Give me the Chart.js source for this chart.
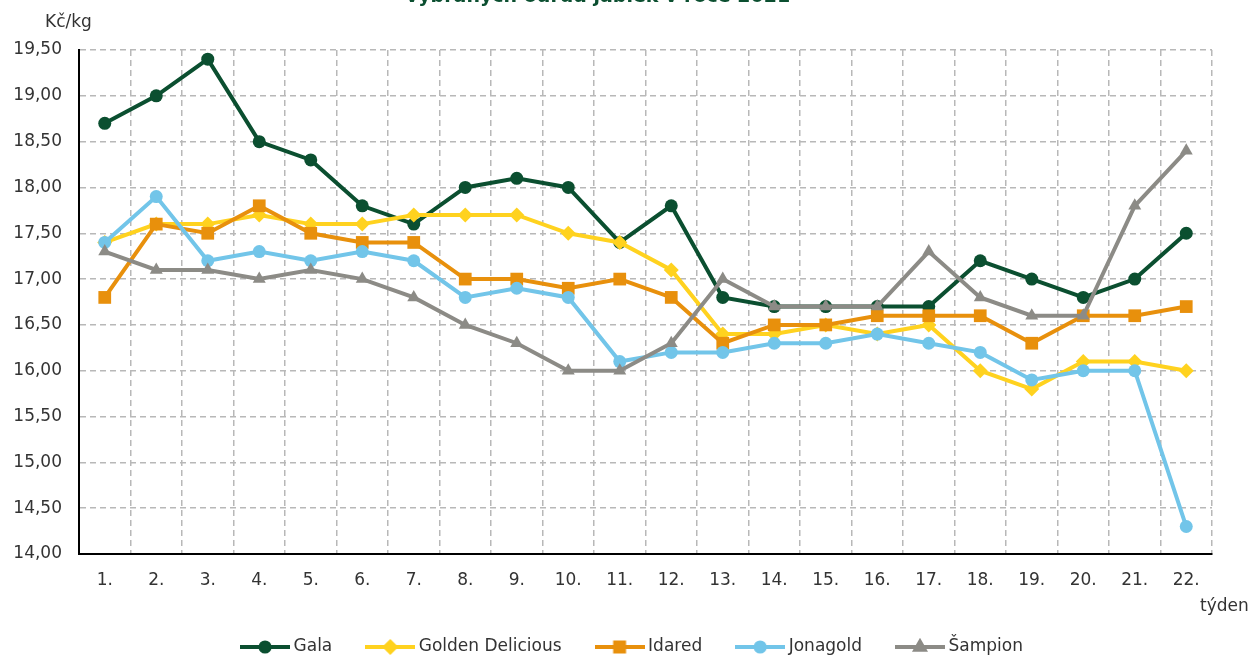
<!DOCTYPE html>
<html>
<head>
<meta charset="utf-8">
<script src="https://cdn.jsdelivr.net/npm/chart.js@4/dist/chart.umd.min.js"></script>
<style>
  body { margin: 0; overflow: hidden; background: #fff; }
  .wrap { position: relative; width: 1253px; height: 680px; }
</style>
</head>
<body>
<div class="wrap"><canvas class="line-chart"></canvas></div>
<script>
// weeks 1.-22.
const weeks = ["1.", "2.", "3.", "4.", "5.", "6.", "7.", "8.", "9.", "10.", "11.",
  "12.", "13.", "14.", "15.", "16.", "17.", "18.", "19.", "20.", "21.", "22."];

const gala = [18.7, 19.0, 19.4, 18.5, 18.3, 17.8, 17.6, 18.0, 18.1, 18.0, 17.4,
  17.8, 16.8, 16.7, 16.7, 16.7, 16.7, 17.2, 17.0, 16.8, 17.0, 17.5];
const golden = [17.4, 17.6, 17.6, 17.7, 17.6, 17.6, 17.7, 17.7, 17.7, 17.5, 17.4,
  17.1, 16.4, 16.4, 16.5, 16.4, 16.5, 16.0, 15.8, 16.1, 16.1, 16.0];
const idared = [16.8, 17.6, 17.5, 17.8, 17.5, 17.4, 17.4, 17.0, 17.0, 16.9, 17.0,
  16.8, 16.3, 16.5, 16.5, 16.6, 16.6, 16.6, 16.3, 16.6, 16.6, 16.7];
const jonagold = [17.4, 17.9, 17.2, 17.3, 17.2, 17.3, 17.2, 16.8, 16.9, 16.8, 16.1,
  16.2, 16.2, 16.3, 16.3, 16.4, 16.3, 16.2, 15.9, 16.0, 16.0, 14.3];
const sampion = [17.3, 17.1, 17.1, 17.0, 17.1, 17.0, 16.8, 16.5, 16.3, 16.0, 16.0,
  16.3, 17.0, 16.7, 16.7, 16.7, 17.3, 16.8, 16.6, 16.6, 17.8, 18.4];

const seriesNames = ["Gala", "Golden Delicious", "Idared", "Jonagold", "Šampion"];
const seriesData = [gala, golden, idared, jonagold, sampion];
const colors = ["#0b4f30", "#ffd21f", "#e8900c", "#72c5e9", "#8c8b86"];
const markers = ["circle", "rectRot", "rect", "circle", "triangle"];
const markerSizes = [6.5, 7.5, 9, 6.5, 7.5];

const titleText = "vybraných odrůd jablek v roce 2021";
const yUnit = "Kč/kg";
const xUnit = "týden";

const textColor = "#333333";
const font = "'DejaVu Sans', Verdana, sans-serif";

// little line+marker picture for each legend entry
const legendIcon = (i) => {
  const c = document.createElement("canvas");
  c.width = 50;
  c.height = 18;
  const ctx = c.getContext("2d");
  ctx.strokeStyle = colors[i];
  ctx.fillStyle = colors[i];
  ctx.lineWidth = 4;
  ctx.beginPath();
  ctx.moveTo(0, 9);
  ctx.lineTo(50, 9);
  ctx.stroke();
  Chart.helpers.drawPoint(ctx, {
    pointStyle: markers[i],
    radius: markerSizes[i] * 0.7,
    rotation: 0,
    borderWidth: 1,
  }, 25, 9);
  ctx.fill();
  return c;
};

const extraText = {
  id: "extraText",
  afterLayout(chart) {
    // the legend in the picture sits a bit right of the plot centre
    chart.legend.left += 28;
    chart.legend.right += 28;
  },
  afterDraw(chart) {
    const ctx = chart.ctx;
    const area = chart.chartArea;
    ctx.save();
    ctx.fillStyle = "#0b4f30";
    ctx.font = "bold 19px " + font;
    ctx.textAlign = "center";
    ctx.textBaseline = "alphabetic";
    ctx.fillText(titleText, 598, 2);
    ctx.fillStyle = textColor;
    ctx.font = "17px " + font;
    ctx.textAlign = "left";
    ctx.textBaseline = "middle";
    ctx.fillText(yUnit, 45, area.top - 27);
    ctx.fillText(xUnit, 1200, area.bottom + 53);
    ctx.restore();
  },
};

const renderChart = () => {
  const el = document.querySelector(".line-chart");

  new Chart(el, {
    type: "line",
    data: {
      labels: weeks,
      datasets: seriesNames.map((name, i) => ({
        label: name,
        data: seriesData[i],
        borderColor: colors[i],
        backgroundColor: colors[i],
        borderWidth: 4,
        pointStyle: markers[i],
        pointRadius: markerSizes[i],
        pointBorderWidth: 0,
        pointHoverRadius: markerSizes[i],
        tension: 0,
        order: seriesNames.length - i,
      })),
    },
    options: {
      responsive: true,
      maintainAspectRatio: false,
      animation: false,
      layout: { padding: { top: 50, right: 41, bottom: 14.5, left: 0 } },
      plugins: {
        title: { display: false },
        tooltip: { enabled: false },
        legend: {
          position: "bottom",
          labels: {
            usePointStyle: true,
            pointStyleWidth: 40,
            padding: 38,
            color: textColor,
            font: { family: font, size: 17 },
            sort: (a, b) => a.datasetIndex - b.datasetIndex,
            generateLabels: (chart) => {
              const items = Chart.defaults.plugins.legend.labels.generateLabels(chart);
              items.forEach((it) => {
                it.pointStyle = legendIcon(it.datasetIndex);
              });
              return items;
            },
          },
        },
      },
      scales: {
        x: {
          offset: true,
          grid: {
            offset: true,
            color: "#b8b8b8",
            lineWidth: 1.5,
            drawTicks: false,
          },
          border: { display: true, color: "#000", width: 2, dash: [6, 4] },
          ticks: {
            color: textColor,
            font: { family: font, size: 17 },
            padding: 16,
            maxRotation: 0,
            autoSkip: false,
          },
          afterFit: (scale) => { scale.height = 46.5; },
        },
        y: {
          min: 14,
          max: 19.5,
          grid: {
            color: "#b8b8b8",
            lineWidth: 1.5,
            drawTicks: false,
          },
          border: { display: true, color: "#000", width: 2, dash: [6, 4] },
          ticks: {
            stepSize: 0.5,
            color: textColor,
            font: { family: font, size: 17 },
            padding: 17,
            callback: (v) => v.toFixed(2).replace(".", ","),
          },
          afterFit: (scale) => { scale.width = 79; },
        },
      },
    },
    plugins: [extraText],
  });
};

renderChart();
</script>
</body>
</html>
